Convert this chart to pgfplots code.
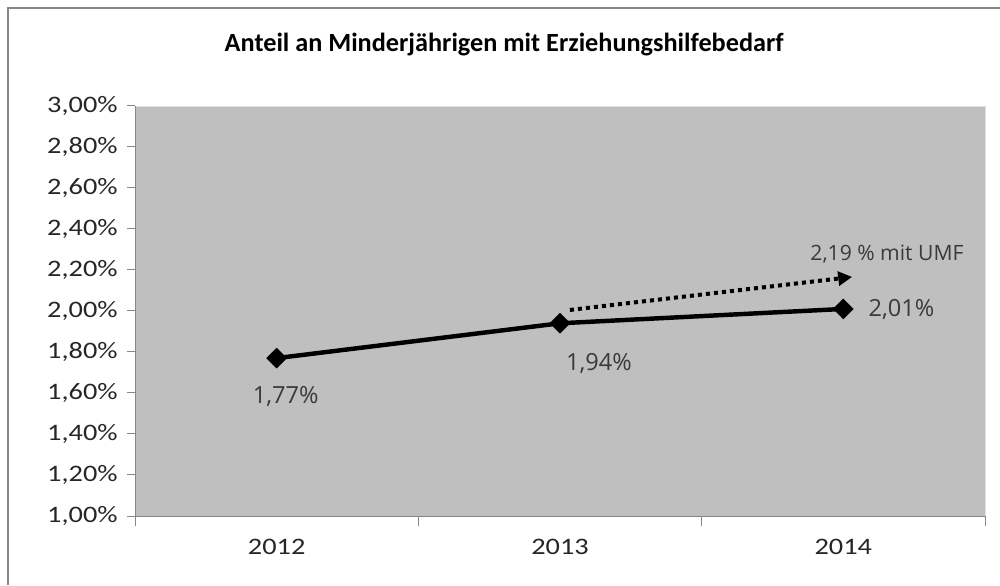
\documentclass[border=0pt]{standalone}
\usepackage{fontspec}
\setmainfont{Carlito}
\newfontfamily\tickfont{Carlito}[FakeStretch=1.2]
\newfontfamily\labelfont{Open Sans}
\usepackage{pgfplots}
\pgfplotsset{compat=1.18}
\usetikzlibrary{arrows.meta}
\definecolor{plotgray}{HTML}{BFBFBF}
\definecolor{framegray}{HTML}{868686}
\definecolor{labelgray}{HTML}{3A3A3A}

\begin{document}
\begin{tikzpicture}
\path[use as bounding box] (0,0) rectangle (720pt,-421.2pt);
% outer chart frame (only top and left visible)
\draw[framegray, line width=1.4pt] (5.76pt,-421.2pt) -- (5.76pt,-5.76pt) -- (720pt,-5.76pt);
\node[font=\fontsize{18.9}{21}\selectfont\bfseries] at (363pt,-32.4pt)
  {Anteil an Minderjährigen mit Erziehungshilfebedarf};
\begin{axis}[
  at={(97.2pt,-371.5pt)}, anchor=south west,
  width=612pt, height=295.2pt, scale only axis,
  xmin=-0.5, xmax=2.5, ymin=1, ymax=3,
  clip=false,
  axis background/.style={fill=plotgray, draw=black!12},
  axis x line*=bottom, axis y line*=left,
  axis line style={framegray, line width=0.7pt},
  tick align=outside,
  tick style={framegray, line width=0.7pt},
  major tick length=6pt,
  xtick={-0.5,0.5,1.5,2.5},
  x tick label as interval,
  xticklabels={2012,2013,2014},
  xtick style={/pgfplots/major tick length=7.5pt},
  ytick={1,1.2,1.4,1.6,1.8,2,2.2,2.4,2.6,2.8,3},
  yticklabels={{1,00\%},{1,20\%},{1,40\%},{1,60\%},{1,80\%},{2,00\%},
    {2,20\%},{2,40\%},{2,60\%},{2,80\%},{3,00\%}},
  ticklabel style={font=\tickfont\fontsize{17}{20}\selectfont, text=black!85},
  yticklabel style={xshift=-3pt},
  xticklabel style={yshift=-7pt},
]
\addplot[black, line width=3.2pt, mark=square*,
  mark size=5pt, mark options={solid, fill=black, rotate=45, line width=0.5pt}]
  coordinates {(0,1.77)(1,1.94)(2,2.01)};
% dotted arrow towards the value with UMF
\addplot[black, line width=2.9pt, dash pattern=on 2.9pt off 2.9pt,
  -{Triangle[length=10pt,width=10pt]}]
  coordinates {(1.035,2.005)(2.031,2.166)};
\node[font=\labelfont\fontsize{17}{20}\selectfont, text=labelgray]
  at (axis cs:0,1.77) [xshift=6.5pt, yshift=-27.4pt] {1,77\%};
\node[font=\labelfont\fontsize{17}{20}\selectfont, text=labelgray]
  at (axis cs:1,1.94) [xshift=28pt, yshift=-28.8pt] {1,94\%};
\node[font=\labelfont\fontsize{17}{20}\selectfont, text=labelgray]
  at (axis cs:2,2.01) [xshift=41.8pt, yshift=-0.7pt] {2,01\%};
\node[font=\labelfont\fontsize{15.2}{18}\selectfont, text=labelgray]
  at (axis cs:2.154,2.278) {2,19 \% mit UMF};
\end{axis}
\end{tikzpicture}
\end{document}
